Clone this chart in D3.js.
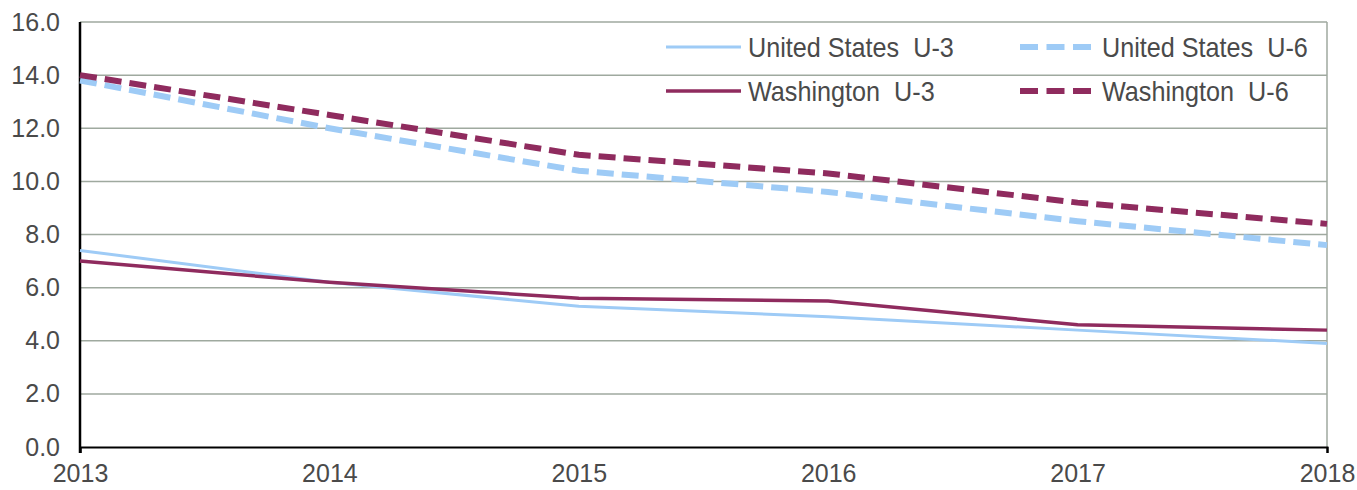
<!DOCTYPE html>
<html>
<head>
  <meta charset="utf-8">
  <script src="https://d3js.org/d3.v7.min.js"></script>
  <style>
    body {
      margin: 0;
      padding: 0;
      background: #fff;
      font-family: "Liberation Sans", Arial, sans-serif;
    }
    .tick text {
      fill: #4a4a4a;
      font-size: 25px;
    }
    .legend text {
      fill: #4a4a4a;
      font-size: 28px;
    }
  </style>
</head>
<body>
<div id="chart"></div>
<script>

  var years = [2013, 2014, 2015, 2016, 2017, 2018];
  var usU3 = [7.4, 6.2, 5.3, 4.9, 4.4, 3.9];
  var usU6 = [13.8, 12.0, 10.4, 9.6, 8.5, 7.6];
  var waU3 = [7.0, 6.2, 5.6, 5.5, 4.6, 4.4];
  var waU6 = [14.0, 12.5, 11.0, 10.3, 9.2, 8.4];
  var yTicks = [0, 2, 4, 6, 8, 10, 12, 14, 16];

  var series = [
    { name: "United States  U-3", values: usU3, color: "#9ecbf6", width: 3, dash: null },
    { name: "United States  U-6", values: usU6, color: "#9ecbf6", width: 6, dash: "17,8" },
    { name: "Washington  U-3", values: waU3, color: "#8f2b5e", width: 3.5, dash: null },
    { name: "Washington  U-6", values: waU6, color: "#8f2b5e", width: 6, dash: "17,8" }
  ];

  var margin = { top: 22, right: 30, bottom: 43, left: 80 };
  var W = 1357, H = 490;
  var width = W - margin.left - margin.right;
  var height = H - margin.top - margin.bottom;

  var svg = d3.select("#chart").append("svg")
      .attr("width", W)
      .attr("height", H)
    .append("g")
      .attr("transform", "translate(" + margin.left + "," + margin.top + ")");

  var x = d3.scaleLinear()
      .domain([2013, 2018])
      .range([0, width]);

  var y = d3.scaleLinear()
      .domain([0, 16])
      .range([height, 0]);

  // gridlines
  svg.selectAll(".grid")
      .data(yTicks.filter(function(d) { return d > 0; }))
    .enter().append("line")
      .attr("class", "grid")
      .attr("x1", 0)
      .attr("x2", width)
      .attr("y1", function(d) { return y(d); })
      .attr("y2", function(d) { return y(d); })
      .attr("stroke", "#9fa99f")
      .attr("stroke-width", 1.5);

  // right border
  svg.append("line")
      .attr("x1", width).attr("x2", width)
      .attr("y1", 0).attr("y2", height)
      .attr("stroke", "#9fa99f")
      .attr("stroke-width", 1.5);

  var yAxis = d3.axisLeft(y)
      .tickValues(yTicks)
      .tickFormat(d3.format(".1f"))
      .tickSize(0)
      .tickPadding(20);

  var xAxis = d3.axisBottom(x)
      .tickValues(years)
      .tickFormat(d3.format("d"))
      .tickSize(6)
      .tickPadding(11);

  var gx = svg.append("g")
      .attr("transform", "translate(0," + height + ")")
      .call(xAxis);
  gx.select(".domain").attr("stroke", "#000").attr("stroke-width", 2);
  gx.selectAll(".tick line").attr("stroke", "#000").attr("stroke-width", 2)
    .attr("display", function(d) { return (d === 2013 || d === 2018) ? null : "none"; });

  var gy = svg.append("g").call(yAxis);
  gy.select(".domain").attr("stroke", "#000").attr("stroke-width", 2.5)
    .attr("d", "M0," + (height + 6) + "V0");

  var line = d3.line()
      .x(function(d, i) { return x(years[i]); })
      .y(function(d) { return y(d); });

  // draw order: US lines, then Washington on top
  [series[1], series[3], series[0], series[2]].forEach(function(s) {
    svg.append("path")
        .datum(s.values)
        .attr("fill", "none")
        .attr("stroke", s.color)
        .attr("stroke-width", s.width)
        .attr("stroke-dasharray", s.dash)
        .attr("d", line);
  });

  // legend
  var legend = svg.append("g").attr("class", "legend");
  var legPos = [[586, 25], [940, 25], [586, 69], [940, 69]];
  legend.selectAll("g")
      .data(series)
    .enter().append("g")
      .attr("transform", function(d, i) { return "translate(" + legPos[i][0] + "," + legPos[i][1] + ")"; })
      .each(function(s) {
        var g = d3.select(this);
        g.append("line")
            .attr("x1", 0).attr("x2", 75)
            .attr("stroke", s.color)
            .attr("stroke-width", s.width)
            .attr("stroke-dasharray", s.dash ? "18,8.5" : null);
        g.append("text")
            .attr("transform", "translate(82,0) scale(0.9,1)")
            .attr("dy", "0.35em")
            .attr("xml:space", "preserve")
            .style("white-space", "pre")
            .text(s.name);
      });

</script>
</body>
</html>
